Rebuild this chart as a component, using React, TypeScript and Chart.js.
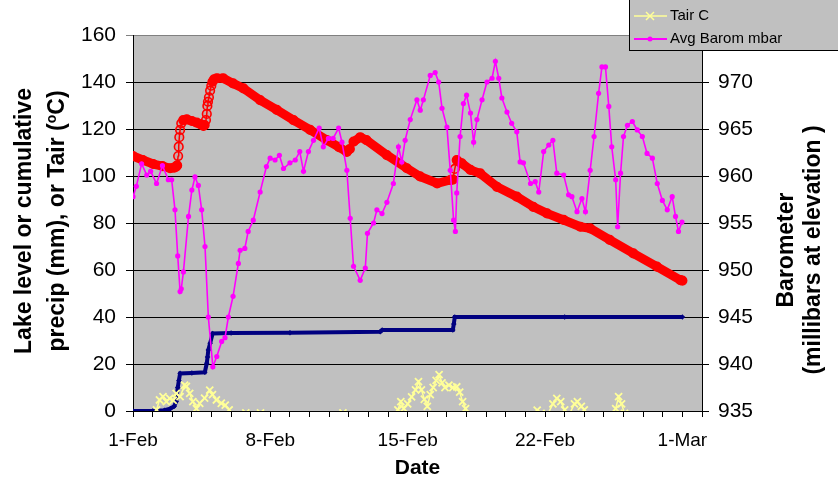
import React, { useEffect, useRef } from 'react';
import { Chart, registerables } from 'chart.js';

Chart.register(...registerables);

const FONT = '"Liberation Sans", Arial, Helvetica, sans-serif';

// X axis (days since 1-Feb)
const xTickDays = [0, 7, 14, 21, 28];
const xTickLabels = ['1-Feb', '8-Feb', '15-Feb', '22-Feb', '1-Mar'];

const seriesNames = ['Lake level (mm)', 'Cumulative precip (mm)', 'Tair C', 'Avg Barom mbar'];

// Lake level (mm) - left axis
const lakeDays = [0, 0.5, 1.03, 1.5, 1.89, 2.1, 2.2, 2.25, 2.3, 2.33, 2.36, 2.4, 2.46, 2.56, 2.74, 3.0, 3.25, 3.45, 3.59, 3.65, 3.72, 3.76, 3.79, 3.82, 3.87, 3.93, 3.99, 4.05, 4.13, 4.27, 4.6, 5.1, 5.63, 6.48, 7.33, 8.18, 9.03, 9.88, 10.5, 10.9, 11.05, 11.24, 11.58, 11.9, 12.94, 13.96, 14.63, 15.5, 16.17, 16.3, 16.4, 16.5, 16.76, 17.2, 17.7, 18.55, 19.56, 20.4, 21.1, 21.95, 22.8, 23.3, 24.3, 25.5, 26.7, 27.9, 28];
const lakeMm = [108.5, 106.8, 105.1, 104.2, 103.3, 103.6, 104, 104.5, 108.5, 112.5, 116.5, 119.6, 122.4, 123.8, 124.1, 123.4, 122.7, 122, 121.3, 121.7, 123.8, 126.4, 129.8, 131.6, 133.5, 136.3, 138.4, 140.1, 141.1, 141.6, 141.6, 139.4, 137.3, 132.3, 128.1, 123.8, 119.6, 115.3, 112.3, 110.3, 111.5, 114.6, 116.5, 115.3, 108.9, 103.3, 99.8, 96.9, 98.3, 98.5, 103, 106.8, 105.4, 102.6, 101.1, 95.4, 91.2, 86.9, 84.1, 81.3, 78.4, 77.7, 72.8, 67.1, 61.4, 55.7, 55.5];

// Cumulative precip (mm) - left axis
const precipDays = [0, 1.0, 1.6, 1.9, 2.1, 2.2, 2.28, 2.34, 2.4, 3.0, 3.66, 3.76, 3.8, 3.84, 3.93, 4.06, 5.0, 8.0, 12.6, 12.7, 16.3, 16.35, 16.4, 22, 28];
const precipMm = [0, 0, 0.3, 1, 2, 4, 10, 13, 16, 16.2, 16.5, 20.3, 23, 26, 28.8, 33, 33.2, 33.3, 33.7, 34.5, 34.5, 37, 40, 40, 40];

// Air temperature (C) - left axis (negatives fall below the axis)
const tairDays = [0, 0.5, 1.0, 1.2, 1.35, 1.53, 1.7, 1.87, 2.05, 2.2, 2.4, 2.63, 2.72, 2.89, 3.05, 3.23, 3.4, 3.65, 3.91, 4.05, 4.25, 4.5, 4.7, 4.9, 5.1, 5.5, 5.75, 6.0, 6.5, 6.8, 7.5, 8.5, 9.5, 10.3, 10.7, 11.0, 12, 13, 13.5, 13.65, 13.8, 14.0, 14.2, 14.4, 14.55, 14.7, 14.85, 15.0, 15.15, 15.3, 15.45, 15.6, 15.75, 15.9, 16.1, 16.3, 16.5, 16.65, 16.8, 16.95, 17.1, 17.5, 18.5, 19.5, 20.3, 20.6, 20.8, 21.1, 21.4, 21.6, 21.8, 22.0, 22.2, 22.5, 22.65, 22.85, 23.0, 23.3, 24, 24.6, 24.75, 24.9, 25.05, 25.5, 26.5, 27.5, 28];
const tairC = [-4, -6, -2, 0.5, 4.7, 6.1, 4, 5.4, 4.5, 7.5, 6.1, 11, 10.5, 7.5, 4, 1, 3.3, 5.5, 8.9, 7, 4.7, 3.3, 2.5, 0.5, -3, -5, -0.8, -4, -0.8, -6, -9, -7, -10, -6, -0.8, -5, -9, -4, 0.5, 4, 1, 3, 6, 9, 12.5, 9, 5, 2, 7, 10, 13, 15.5, 12, 10, 11, 10, 10.3, 8, 4, 1, -4, -8, -11, -7, -3, 0.4, -1, -2, 3, 5.4, 4, 0.5, -2, 3, 4, 2, 0.5, -3, -5, 1, 6.1, 3, -1, -6, -9, -5, -3];

// Average barometric pressure (mbar) - right axis
const baromDays = [0, 0.17, 0.44, 0.7, 0.9, 1.2, 1.5, 1.8, 1.97, 2.14, 2.28, 2.4, 2.46, 2.57, 2.83, 3.0, 3.16, 3.33, 3.5, 3.67, 3.84, 4.07, 4.27, 4.52, 4.69, 4.86, 5.1, 5.37, 5.46, 5.7, 5.87, 6.13, 6.48, 6.8, 6.99, 7.24, 7.46, 7.67, 8.0, 8.27, 8.5, 8.69, 8.94, 9.2, 9.49, 9.7, 9.96, 10.2, 10.48, 10.65, 10.9, 11.07, 11.24, 11.58, 11.84, 11.95, 12.26, 12.43, 12.69, 12.94, 13.27, 13.53, 13.7, 13.87, 14.13, 14.47, 14.64, 14.8, 15.15, 15.4, 15.58, 15.75, 16.0, 16.17, 16.34, 16.43, 16.5, 16.67, 16.84, 17.0, 17.2, 17.36, 17.53, 17.79, 18.04, 18.3, 18.47, 18.64, 18.8, 19.06, 19.3, 19.56, 19.73, 19.9, 20.26, 20.5, 20.68, 20.93, 21.19, 21.4, 21.6, 21.95, 22.2, 22.37, 22.63, 22.88, 23.06, 23.3, 23.5, 23.73, 23.9, 24.08, 24.25, 24.4, 24.6, 24.7, 24.85, 25.0, 25.2, 25.45, 25.7, 25.96, 26.2, 26.47, 26.72, 26.98, 27.23, 27.48, 27.65, 27.8, 27.98];
const baromMbar = [957.8, 958.9, 961.3, 960.1, 960.5, 959.2, 961.1, 959.6, 959.6, 956.4, 951.5, 947.7, 948, 949.8, 955.7, 958.5, 959.9, 959.0, 956.4, 952.5, 945, 939.7, 940.8, 942.4, 942.8, 945, 947.2, 950.7, 952.1, 952.3, 954.1, 955.3, 958.3, 961, 961.9, 961.7, 962.2, 960.8, 961.4, 961.7, 962.6, 960.5, 962.6, 963.8, 965.1, 963.1, 964, 964, 965.1, 963.6, 960.6, 955.5, 950.4, 948.9, 950.2, 953.9, 955, 956.4, 956, 957.2, 959.2, 963.1, 961.5, 963.8, 966, 968.1, 967, 968.1, 970.7, 971, 970, 967.2, 965.2, 960.6, 955.3, 954.1, 958.2, 964.2, 967.7, 968.6, 966.7, 963.6, 966, 968.1, 970, 970.4, 972.2, 970.4, 968.3, 966.8, 965.6, 964.7, 961.5, 961.4, 959.2, 959.4, 958.3, 962.6, 963.3, 963.8, 960.3, 960.1, 958, 957.8, 956.2, 957.6, 956.2, 960.6, 964.2, 968.8, 971.6, 971.6, 967.4, 963.1, 959.6, 954.6, 960.3, 964.2, 965.4, 965.8, 964.9, 964.2, 962.4, 961.9, 959.2, 957.4, 956.4, 957.8, 955.7, 954.1, 955.1];

const COLORS = {
  lake: '#FF0000',
  precip: '#000080',
  tair: '#FFFF99',
  barom: '#FF00FF',
  plot: '#C0C0C0',
};

function pairs(xs: number[], ys: number[]) {
  return xs.map((x, i) => ({ x, y: ys[i] }));
}

type Part = { text: string; size: number; rise?: number };

function drawVertical(ctx: CanvasRenderingContext2D, parts: Part[], baseX: number, centerY: number) {
  ctx.save();
  ctx.translate(baseX, centerY);
  ctx.rotate(-Math.PI / 2);
  ctx.textBaseline = 'alphabetic';
  ctx.textAlign = 'left';
  ctx.fillStyle = '#000';
  let total = 0;
  for (const p of parts) {
    ctx.font = `bold ${p.size}px ${FONT}`;
    total += ctx.measureText(p.text).width;
  }
  let x = -total / 2;
  for (const p of parts) {
    ctx.font = `bold ${p.size}px ${FONT}`;
    ctx.fillText(p.text, x, -(p.rise || 0));
    x += ctx.measureText(p.text).width;
  }
  ctx.restore();
}

const decorPlugin = {
  id: 'decor',
  beforeDraw(chart: any) {
    const { ctx, chartArea: a } = chart;
    ctx.save();
    ctx.fillStyle = '#FFFFFF';
    ctx.fillRect(0, 0, chart.width, chart.height);
    ctx.fillStyle = COLORS.plot;
    ctx.fillRect(a.left, a.top, a.right - a.left, a.bottom - a.top);
    ctx.restore();
  },
  afterDraw(chart: any) {
    const { ctx } = chart;
    // Axis titles
    const t = 23;
    drawVertical(ctx, [{ text: 'Lake level or cumulative', size: t }], 31, 221);
    drawVertical(
      ctx,
      [
        { text: 'precip (mm), or Tair (', size: t },
        { text: 'o', size: 14, rise: 8 },
        { text: 'C)', size: t },
      ],
      64,
      221
    );
    drawVertical(ctx, [{ text: 'Barometer', size: t }], 793, 250);
    drawVertical(ctx, [{ text: '(millibars at elevation )', size: t }], 820, 250);

    ctx.save();
    ctx.font = `bold 21px ${FONT}`;
    ctx.fillStyle = '#000';
    ctx.textAlign = 'center';
    ctx.textBaseline = 'alphabetic';
    ctx.fillText('Date', 417.5, 474);
    ctx.restore();

    // Legend box (partly outside the picture at the top)
    ctx.save();
    const lx = 629;
    const lb = 51;
    ctx.fillStyle = COLORS.plot;
    ctx.fillRect(lx, -60, 300, lb + 60);
    ctx.strokeStyle = '#000';
    ctx.lineWidth = 1;
    ctx.strokeRect(lx + 0.5, -60, 300, lb + 60 - 0.5);
    const rows = [
      { name: seriesNames[0], color: COLORS.lake, y: -30, w: 2, mark: 'circle' },
      { name: seriesNames[1], color: COLORS.precip, y: -7, w: 2, mark: 'diamond' },
      { name: seriesNames[2], color: COLORS.tair, y: 16, w: 1.5, mark: 'x' },
      { name: seriesNames[3], color: COLORS.barom, y: 39, w: 2, mark: 'dot' },
    ];
    for (const r of rows) {
      ctx.strokeStyle = r.color;
      ctx.fillStyle = r.color;
      ctx.lineWidth = r.w;
      ctx.beginPath();
      ctx.moveTo(634, r.y);
      ctx.lineTo(667, r.y);
      ctx.stroke();
      const cx = 650;
      if (r.mark === 'x') {
        ctx.lineWidth = 1.5;
        ctx.beginPath();
        ctx.moveTo(cx - 4, r.y - 4);
        ctx.lineTo(cx + 4, r.y + 4);
        ctx.moveTo(cx + 4, r.y - 4);
        ctx.lineTo(cx - 4, r.y + 4);
        ctx.stroke();
      } else if (r.mark === 'dot') {
        ctx.beginPath();
        ctx.arc(cx, r.y, 2.5, 0, Math.PI * 2);
        ctx.fill();
      } else if (r.mark === 'circle') {
        ctx.beginPath();
        ctx.arc(cx, r.y, 4, 0, Math.PI * 2);
        ctx.stroke();
      } else {
        ctx.beginPath();
        ctx.moveTo(cx, r.y - 3);
        ctx.lineTo(cx + 3, r.y);
        ctx.lineTo(cx, r.y + 3);
        ctx.lineTo(cx - 3, r.y);
        ctx.closePath();
        ctx.fill();
      }
      ctx.fillStyle = '#000';
      ctx.font = `15px ${FONT}`;
      ctx.textAlign = 'left';
      ctx.textBaseline = 'middle';
      ctx.fillText(r.name, 670, r.y);
    }
    ctx.restore();
  },
};

export default function App() {
  const ref = useRef<HTMLCanvasElement | null>(null);

  useEffect(() => {
    if (!ref.current) return;
    const chart = new Chart(ref.current, {
      type: 'line',
      data: {
        datasets: [
          {
            label: seriesNames[3],
            data: pairs(baromDays, baromMbar),
            yAxisID: 'y2',
            borderColor: COLORS.barom,
            backgroundColor: COLORS.barom,
            borderWidth: 1.6,
            pointStyle: 'circle',
            pointRadius: 2.6,
            pointBorderWidth: 0,
            pointBackgroundColor: COLORS.barom,
            tension: 0,
          },
          {
            label: seriesNames[2],
            data: pairs(tairDays, tairC),
            yAxisID: 'y',
            borderColor: COLORS.tair,
            backgroundColor: COLORS.tair,
            borderWidth: 1.5,
            pointStyle: 'crossRot',
            pointRadius: 5,
            pointBorderWidth: 1.8,
            pointBorderColor: COLORS.tair,
            tension: 0,
          },
          {
            label: seriesNames[1],
            data: pairs(precipDays, precipMm),
            yAxisID: 'y',
            borderColor: COLORS.precip,
            backgroundColor: COLORS.precip,
            borderWidth: 4,
            pointStyle: 'rectRot',
            pointRadius: 2.8,
            pointBorderWidth: 0,
            pointBackgroundColor: COLORS.precip,
            tension: 0,
          },
          {
            label: seriesNames[0],
            data: pairs(lakeDays, lakeMm),
            yAxisID: 'y',
            borderColor: COLORS.lake,
            backgroundColor: 'rgba(0,0,0,0)',
            borderWidth: 9,
            borderJoinStyle: 'round',
            borderCapStyle: 'round',
            pointStyle: 'circle',
            pointRadius: 4.3,
            pointBorderWidth: 1.6,
            pointBorderColor: COLORS.lake,
            pointBackgroundColor: 'rgba(255,0,0,0.12)',
            tension: 0,
            segment: {
              borderWidth: (c: any) => {
                const dx = Math.abs(c.p1.x - c.p0.x);
                const dy = Math.abs(c.p1.y - c.p0.y);
                return dy > 1.5 * dx ? 1.5 : 9;
              },
            },
          } as any,
        ],
      },
      options: {
        responsive: false,
        animation: false,
        layout: { padding: { top: 35, left: 0, right: 0, bottom: 0 } },
        plugins: {
          legend: { display: false },
          tooltip: { enabled: false },
          title: { display: false },
        },
        scales: {
          x: {
            type: 'linear',
            min: 0,
            max: 29,
            afterFit: (s: any) => {
              s.height = 76;
            },
            grid: {
              drawOnChartArea: false,
              drawTicks: true,
              tickLength: 6,
              color: '#000',
            },
            border: { display: true, color: '#000', width: 1 },
            ticks: {
              stepSize: 1,
              autoSkip: false,
              maxRotation: 0,
              minRotation: 0,
              padding: 12,
              color: '#000',
              font: { family: FONT, size: 19 },
              callback: (v: any) => {
                const i = xTickDays.indexOf(Number(v));
                return i >= 0 ? xTickLabels[i] : '';
              },
            },
          },
          y: {
            type: 'linear',
            position: 'left',
            min: 0,
            max: 160,
            afterFit: (s: any) => {
              s.width = 133;
            },
            grid: {
              drawOnChartArea: true,
              drawTicks: true,
              tickLength: 7,
              color: (c: any) => (c.tick && c.tick.value === 160 ? '#808080' : '#000'),
            },
            border: { display: true, color: '#000', width: 1 },
            ticks: {
              stepSize: 20,
              padding: 10,
              color: '#000',
              font: { family: FONT, size: 21 },
            },
          },
          y2: {
            type: 'linear',
            position: 'right',
            min: 935,
            max: 975,
            afterFit: (s: any) => {
              s.width = 136;
            },
            grid: {
              drawOnChartArea: false,
              drawTicks: true,
              tickLength: 7,
              color: '#000',
            },
            border: { display: true, color: '#000', width: 1 },
            ticks: {
              stepSize: 5,
              padding: 9,
              color: '#000',
              font: { family: FONT, size: 21 },
            },
          },
        },
      } as any,
      plugins: [decorPlugin],
    });
    return () => chart.destroy();
  }, []);

  return (
    <div style={{ position: 'fixed', left: 0, top: 0, width: 838, height: 487, background: '#fff' }}>
      <canvas ref={ref} width={838} height={487} style={{ display: 'block', width: 838, height: 487 }} />
    </div>
  );
}
